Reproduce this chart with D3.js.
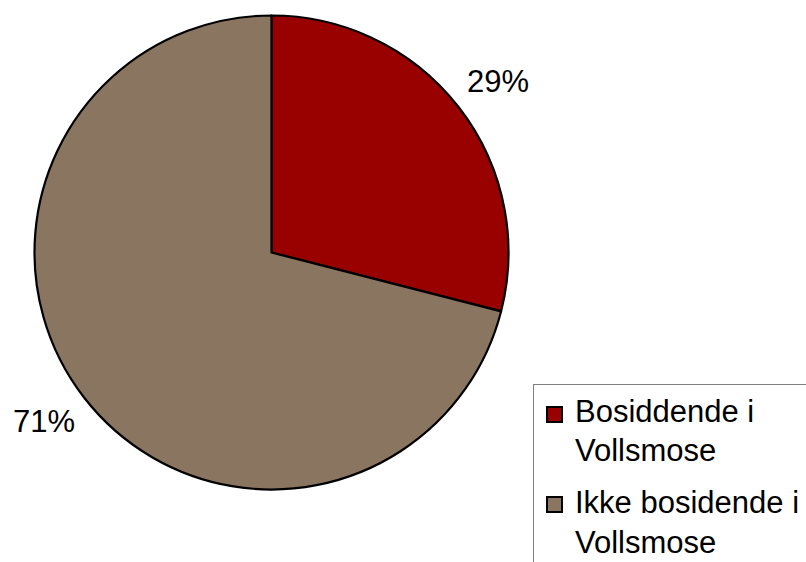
<!DOCTYPE html>
<html><head><meta charset="utf-8">
<script src="https://cdn.jsdelivr.net/npm/d3@7"></script>
<style>body{margin:0;background:#fff}svg{display:block}</style>
</head><body>
<script>
const categories = ["Bosiddende i Vollsmose", "Ikke bosidende i Vollsmose"];
const legendLines = [["Bosiddende i", "Vollsmose"], ["Ikke bosidende i", "Vollsmose"]];
const values = [29, 71];
const labels = ["29%", "71%"];
const colors = ["#990000", "#8A7561"];

const W = 806, H = 562;
const svg = d3.select("body").append("svg").attr("width", W).attr("height", H);
const cx = 271.5, cy = 252.5, r = 237;
const pie = d3.pie().sort(null).value(d => d)(values);
const arc = d3.arc().innerRadius(0).outerRadius(r);
const g = svg.append("g").attr("transform", `translate(${cx},${cy})`);
g.selectAll("path").data(pie).join("path")
  .attr("d", arc).attr("fill", (d, i) => colors[i])
  .attr("stroke", "#000").attr("stroke-width", 2.2).attr("stroke-linejoin", "round");

const font = "Arial, 'Liberation Sans', sans-serif";
const labelPos = [[467, 92, "start"], [13, 432, "start"]];
svg.selectAll("text.lbl").data(labels).join("text").attr("class", "lbl")
  .attr("x", (d, i) => labelPos[i][0]).attr("y", (d, i) => labelPos[i][1])
  .attr("font-family", font).attr("font-size", 31).attr("fill", "#000")
  .text(d => d);

// legend
svg.append("rect").attr("x", 533.5).attr("y", 384.5).attr("width", 300).attr("height", 200)
  .attr("fill", "#fff").attr("stroke", "#808080").attr("stroke-width", 1);
const itemY = [407, 497];
const lineBase = [[422, 461], [513, 553]];
categories.forEach((c, i) => {
  svg.append("rect").attr("x", 547).attr("y", itemY[i]).attr("width", 15).attr("height", 15)
    .attr("fill", colors[i]).attr("stroke", "#000").attr("stroke-width", 2);
  legendLines[i].forEach((t, j) => {
    svg.append("text").attr("x", 575).attr("y", lineBase[i][j])
      .attr("font-family", font).attr("font-size", 31).attr("fill", "#000").text(t);
  });
});
</script>
</body></html>
